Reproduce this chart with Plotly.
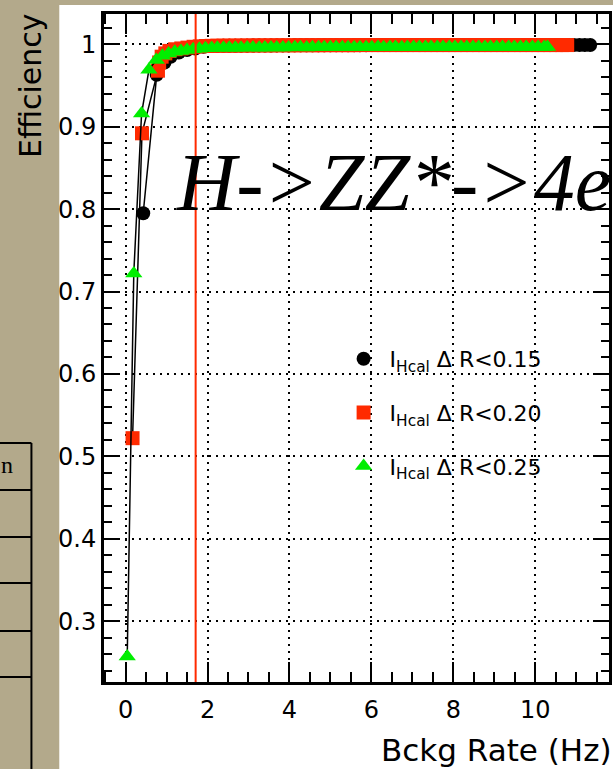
import plotly.graph_objects as go

# ---------------- data ----------------
black_x = [0.43, 0.76, 0.95, 1.10, 1.30, 1.50, 1.70, 1.90,
           2.10, 2.24, 2.39, 2.53, 2.68, 2.82, 2.97, 3.11, 3.26, 3.40, 3.55, 3.69, 3.84, 3.98,
           4.13, 4.27, 4.42, 4.56, 4.71, 4.85, 5.00, 5.14, 5.29, 5.43, 5.58, 5.72, 5.87, 6.01,
           6.16, 6.30, 6.45, 6.59, 6.74, 6.88, 7.03, 7.17, 7.32, 7.46, 7.61, 7.75, 7.90, 8.04,
           8.19, 8.33, 8.48, 8.62, 8.77, 8.91, 9.06, 9.20, 9.35, 9.49, 9.64, 9.78, 9.93, 10.07,
           10.22, 10.36, 10.51, 10.65, 10.80, 10.94, 11.08, 11.21, 11.34]
black_y = [0.795, 0.963, 0.978, 0.985, 0.990, 0.993, 0.995, 0.997,
           0.9980, 0.9981, 0.9982, 0.9982, 0.9983, 0.9984, 0.9984, 0.9985, 0.9985, 0.9986, 0.9986, 0.9987, 0.9987, 0.9987,
           0.9988, 0.9988, 0.9988, 0.9989, 0.9989, 0.9989, 0.9989, 0.9990, 0.9990, 0.9990, 0.9990, 0.9990, 0.9990, 0.9991,
           0.9991, 0.9991, 0.9991, 0.9991, 0.9991, 0.9991, 0.9991, 0.9991, 0.9991, 0.9991, 0.9991, 0.9991, 0.9991, 0.9991,
           0.9991, 0.9991, 0.9991, 0.9991, 0.9991, 0.9991, 0.9991, 0.9991, 0.9991, 0.9991, 0.9991, 0.9991, 0.9991, 0.9991,
           0.9991, 0.9991, 0.9991, 0.9991, 0.9991, 0.9991, 0.9991, 0.9991, 0.9991]

red_x = [0.17, 0.40, 0.79, 0.82, 0.88, 0.97, 1.07, 1.21, 1.36, 1.51, 1.66, 1.81, 1.96,
         2.10, 2.24, 2.39, 2.53, 2.68, 2.82, 2.97, 3.11, 3.26, 3.40, 3.55, 3.69, 3.84, 3.98,
         4.13, 4.27, 4.42, 4.56, 4.71, 4.85, 5.00, 5.14, 5.29, 5.43, 5.58, 5.72, 5.87, 6.01,
         6.16, 6.30, 6.45, 6.59, 6.74, 6.88, 7.03, 7.17, 7.32, 7.46, 7.61, 7.75, 7.90, 8.04,
         8.19, 8.33, 8.48, 8.62, 8.77, 8.91, 9.06, 9.20, 9.35, 9.49, 9.64, 9.78, 9.93, 10.07,
         10.22, 10.36, 10.51, 10.65, 10.78]
red_y = [0.522, 0.892, 0.968, 0.978, 0.985, 0.989, 0.992, 0.994, 0.995, 0.996, 0.997, 0.9975, 0.9980,
         0.9982, 0.9983, 0.9984, 0.9984, 0.9985, 0.9985, 0.9986, 0.9986, 0.9987, 0.9987, 0.9987, 0.9988, 0.9988, 0.9988,
         0.9988, 0.9989, 0.9989, 0.9989, 0.9989, 0.9990, 0.9990, 0.9990, 0.9990, 0.9990, 0.9990, 0.9991, 0.9991, 0.9991,
         0.9991, 0.9991, 0.9991, 0.9991, 0.9991, 0.9991, 0.9991, 0.9991, 0.9991, 0.9991, 0.9991, 0.9991, 0.9991, 0.9991,
         0.9991, 0.9991, 0.9991, 0.9991, 0.9991, 0.9991, 0.9991, 0.9991, 0.9991, 0.9991, 0.9991, 0.9991, 0.9991, 0.9991,
         0.9991, 0.9991, 0.9991, 0.9991, 0.9991]

green_x = [0.04, 0.20, 0.39, 0.57, 0.75, 0.90, 1.05, 1.20, 1.35, 1.50, 1.65, 1.80, 1.95,
           2.10, 2.24, 2.39, 2.53, 2.68, 2.82, 2.97, 3.11, 3.26, 3.40, 3.55, 3.69, 3.84, 3.98,
           4.13, 4.27, 4.42, 4.56, 4.71, 4.85, 5.00, 5.14, 5.29, 5.43, 5.58, 5.72, 5.87, 6.01,
           6.16, 6.30, 6.45, 6.59, 6.74, 6.88, 7.03, 7.17, 7.32, 7.46, 7.61, 7.75, 7.90, 8.04,
           8.19, 8.33, 8.48, 8.62, 8.77, 8.91, 9.06, 9.20, 9.35, 9.49, 9.64, 9.78, 9.93, 10.07,
           10.22, 10.30]
green_y = [0.257, 0.722, 0.916, 0.969, 0.981, 0.986, 0.989, 0.991, 0.992, 0.993, 0.9940, 0.9947, 0.9952,
           0.9956, 0.9957, 0.9957, 0.9958, 0.9959, 0.9958, 0.9960, 0.9960, 0.9959, 0.9961, 0.9961, 0.9960, 0.9962, 0.9962,
           0.9963, 0.9963, 0.9962, 0.9963, 0.9964, 0.9963, 0.9964, 0.9964, 0.9965, 0.9964, 0.9965, 0.9965, 0.9964, 0.9965,
           0.9966, 0.9965, 0.9966, 0.9966, 0.9965, 0.9966, 0.9967, 0.9966, 0.9967, 0.9966, 0.9967, 0.9967, 0.9966, 0.9967,
           0.9967, 0.9968, 0.9967, 0.9968, 0.9967, 0.9968, 0.9968, 0.9967, 0.9968, 0.9968, 0.9969, 0.9968, 0.9969, 0.9968,
           0.9969, 0.9969]

series_names = ["I<sub>Hcal</sub> \u0394 R&lt;0.15",
                "I<sub>Hcal</sub> \u0394 R&lt;0.20",
                "I<sub>Hcal</sub> \u0394 R&lt;0.25"]

cut_rate = 1.71   # red vertical line (Hz)

x_ticks = [0, 2, 4, 6, 8, 10]
x_ticktext = ["0", "2", "4", "6", "8", "10"]
y_ticks = [0.3, 0.4, 0.5, 0.6, 0.7, 0.8, 0.9, 1.0]
y_ticktext = ["0.3", "0.4", "0.5", "0.6", "0.7", "0.8", "0.9", "1"]

# ---------------- figure ----------------
W, H = 613, 769
ML, MR, MT, MB = 104, 1, 14, 87
PW, PH = W - ML - MR, H - MT - MB


def px_x(p):
    return (p - ML) / PW


def px_y(p):
    return (H - MB - p) / PH


fig = go.Figure()

styles = [
    dict(symbol="circle", size=14, color="black"),
    dict(symbol="square", size=14, color="#ff2a00"),
    dict(symbol="triangle-up", size=15, color="#00ee00"),
]
data = [(black_x, black_y), (red_x, red_y), (green_x, green_y)]

for (xs, ys), st in zip(data, styles):
    fig.add_trace(go.Scatter(
        x=xs, y=ys, mode="lines+markers",
        line=dict(color="black", width=1.5),
        marker=dict(symbol=st["symbol"], size=st["size"], color=st["color"], line=dict(width=0)),
        showlegend=False, hoverinfo="skip"))

for i, (name, st) in enumerate(zip(series_names, styles)):
    fig.add_trace(go.Scatter(
        x=[None], y=[None], mode="markers", name=name,
        legendgroup="g%d" % i,
        marker=dict(symbol=st["symbol"], size=st["size"], color=st["color"], line=dict(width=0))))

tan = "#b3a98b"
shapes = [
    dict(type="rect", xref="paper", yref="paper", x0=px_x(-5), x1=px_x(59), y0=px_y(H + 20), y1=px_y(-20),
         fillcolor=tan, line=dict(width=0), layer="below"),
    dict(type="rect", xref="paper", yref="paper", x0=px_x(-5), x1=px_x(W + 20), y0=px_y(5), y1=px_y(-20),
         fillcolor=tan, line=dict(width=0), layer="below"),
    dict(type="line", xref="paper", yref="paper", x0=px_x(31), x1=px_x(31), y0=px_y(443), y1=px_y(H + 20),
         line=dict(color="black", width=2), layer="below"),
]
for py in [443, 490, 537, 583, 631, 677]:
    shapes.append(dict(type="line", xref="paper", yref="paper", x0=px_x(-5), x1=px_x(31), y0=px_y(py), y1=px_y(py),
                       line=dict(color="black", width=2), layer="below"))
shapes.append(dict(type="line", xref="x", yref="paper", x0=cut_rate, x1=cut_rate, y0=0, y1=1,
                   line=dict(color="#ff2a00", width=2), layer="above"))

annotations = [
    dict(text="Efficiency", xref="paper", yref="paper", x=px_x(30), y=px_y(11), xanchor="center", yanchor="top",
         textangle=-90, showarrow=False, font=dict(family="DejaVu Sans", size=30, color="black")),
    dict(text="Bckg Rate (Hz)", xref="paper", yref="paper", x=px_x(617), y=px_y(750), xanchor="right",
         yanchor="middle", showarrow=False, font=dict(family="DejaVu Sans", size=31, color="black")),
    dict(text="H-&gt;ZZ*-&gt;4e", xref="paper", yref="paper", x=px_x(174), y=px_y(182), xanchor="left",
         yanchor="middle", showarrow=False,
         font=dict(family="Liberation Serif", size=82, color="black", style="italic")),
    dict(text="n", xref="paper", yref="paper", x=px_x(-2), y=px_y(465), xanchor="left", yanchor="middle",
         showarrow=False, font=dict(family="Liberation Serif", size=24, color="black")),
]

axis_common = dict(showline=True, linewidth=3, linecolor="black", mirror="ticks", ticks="inside",
                   tickwidth=2, tickcolor="black", showgrid=True, gridcolor="black", gridwidth=1.5,
                   griddash="2px,5px", zeroline=False,
                   tickfont=dict(family="DejaVu Sans", size=24, color="black"))

fig.update_layout(
    width=W, height=H, margin=dict(l=ML, r=MR, t=MT, b=MB),
    paper_bgcolor="white", plot_bgcolor="white",
    xaxis=dict(range=[-0.527, 11.80], tickmode="array", tickvals=x_ticks, ticktext=x_ticktext, ticklen=20,
               ticklabelstandoff=4,
               minor=dict(tickmode="linear", tick0=0, dtick=0.5, ticklen=10, tickwidth=2, tickcolor="black",
                          ticks="inside", showgrid=False),
               **axis_common),
    yaxis=dict(range=[0.2261, 1.0368], tickmode="array", tickvals=y_ticks, ticktext=y_ticktext, ticklen=16,
               minor=dict(tickmode="linear", tick0=0, dtick=0.02, ticklen=8, tickwidth=2, tickcolor="black",
                          ticks="inside", showgrid=False),
               **axis_common),
    shapes=shapes, annotations=annotations,
    showlegend=True,
    legend=dict(x=px_x(339), y=px_y(338), xanchor="left", yanchor="top", bgcolor="rgba(0,0,0,0)",
                font=dict(family="DejaVu Sans", size=22, color="black"), tracegroupgap=22,
                itemsizing="trace", itemwidth=42),
)

fig.write_html("out.html")
